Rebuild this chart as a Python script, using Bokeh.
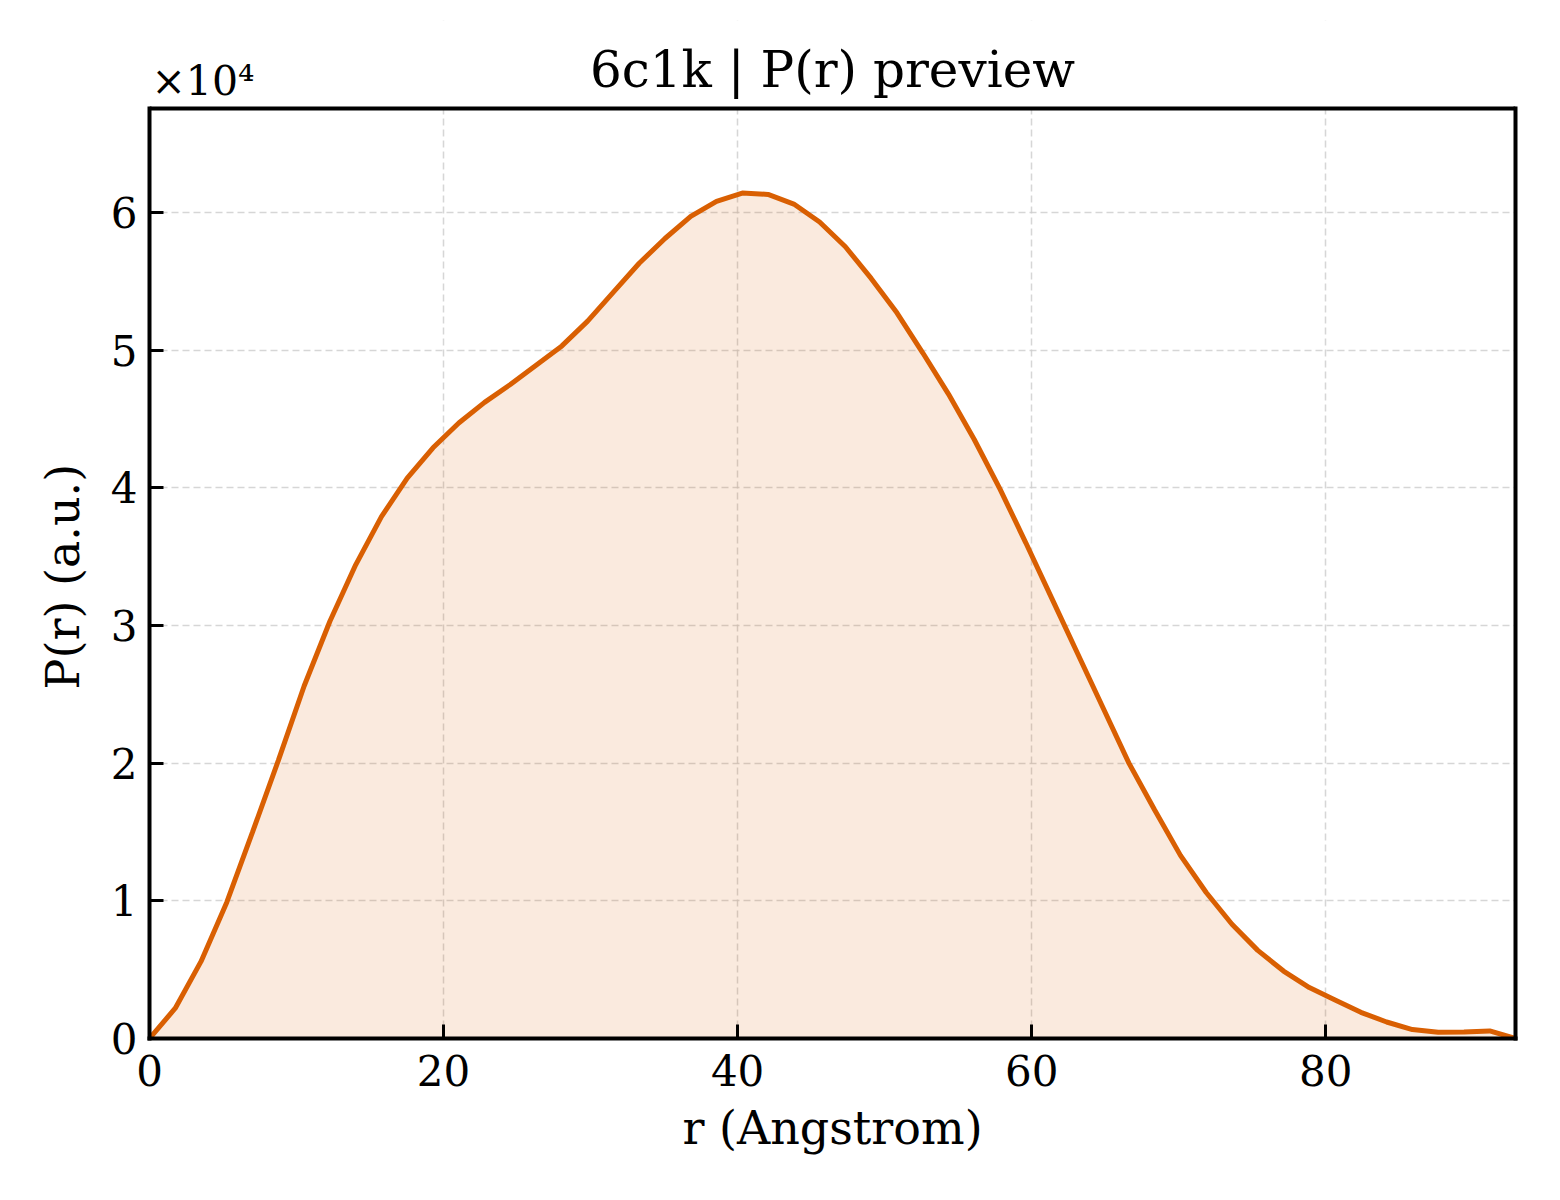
from bokeh.models import (ColumnDataSource, FixedTicker, CustomJSTickFormatter, Range1d,
                          LinearAxis, Span, Title)
from bokeh.core.properties import value
from bokeh.plotting import figure
from bokeh.embed import file_html
from bokeh.resources import INLINE

# P(r) curve (r in Angstrom, P in a.u.)
r_values = [
    0.000, 1.753, 3.506, 5.259, 7.012, 8.765, 10.518, 12.271, 14.024, 15.777,
    17.530, 19.283, 21.036, 22.789, 24.542, 26.295, 28.048, 29.801, 31.554, 33.307,
    35.060, 36.813, 38.566, 40.319, 42.072, 43.825, 45.578, 47.331, 49.084, 50.837,
    52.590, 54.343, 56.096, 57.849, 59.602, 61.355, 63.108, 64.861, 66.614, 68.367,
    70.120, 71.873, 73.626, 75.379, 77.132, 78.885, 80.638, 82.391, 84.144, 85.897,
    87.650, 89.403, 91.156, 92.909,
]
p_values = [
    0, 2200, 5600, 9900, 15000, 20200, 25600, 30300, 34400, 37900,
    40700, 42900, 44700, 46200, 47500, 48900, 50300, 52100, 54200, 56300,
    58100, 59700, 60800, 61400, 61300, 60600, 59300, 57500, 55200, 52700,
    49800, 46800, 43500, 39900, 36000, 32000, 28000, 24000, 20000, 16600,
    13300, 10600, 8300, 6400, 4900, 3700, 2800, 1900, 1200, 650,
    450, 480, 550, 0,
]
x_ticks = [0, 20, 40, 60, 80]
y_ticks = [0, 10000, 20000, 30000, 40000, 50000, 60000]
title_text = "6c1k | P(r) preview"
scale_text = "×10⁴"
x_label = "r (Angstrom)"
y_label = "P(r) (a.u.)"

FONT = "DejaVu Serif"
LINE = "#d95f02"
SPINE = 4

# canvas geometry (px): frame spans TOP..BOTTOM, the boxed axes start at BOX_TOP
W, H = 1545, 1185
LEFT, RIGHT, TOP, BOX_TOP, BOTTOM = 149, 1515, 20, 108, 1038

x_end = max(r_values)
y_top = max(p_values) * 1.1
# extend the data range upwards so the title strip sits inside the frame
y_end = y_top * (BOTTOM - TOP) / (BOTTOM - BOX_TOP)
ky = (BOTTOM - BOX_TOP) / y_top      # px per data unit, y
kx = (RIGHT - LEFT) / x_end          # px per data unit, x

src = ColumnDataSource(dict(r=r_values, p=p_values))

p = figure(
    width=W, height=H,
    x_range=Range1d(0, x_end),
    y_range=Range1d(0, y_end),
    output_backend="svg", toolbar_location=None,
    min_border_left=LEFT, min_border_right=W - RIGHT,
    min_border_top=TOP, min_border_bottom=H - BOTTOM,
)
p.outline_line_color = None

p.varea(x="r", y1=0, y2="p", source=src, fill_color=LINE, fill_alpha=0.13)
p.line(x="r", y="p", source=src, line_color=LINE, line_width=5)

# blank strip above the box (hides the grid there)
p.quad(left=[0], right=[x_end], bottom=[y_top], top=[y_end],
       fill_color="white", line_color=None)

# axes, matplotlib-ish: ticks pointing in, box drawn by the axis lines
for ax in (p.xaxis[0], p.yaxis[0]):
    ax.axis_line_color = "black"
    ax.axis_line_width = SPINE
    ax.axis_line_cap = "square"
    ax.major_tick_in = 14
    ax.major_tick_out = 0
    ax.minor_tick_line_color = None
    ax.major_tick_line_width = 3
    ax.major_label_text_font = FONT
    ax.major_label_text_font_size = "42px"
    ax.major_label_text_color = "black"
    ax.axis_label_text_font = FONT
    ax.axis_label_text_font_size = "46px"
    ax.axis_label_text_font_style = "normal"
    ax.axis_label_text_color = "black"

p.yaxis.bounds = (0, y_top)
p.xaxis.ticker = FixedTicker(ticks=x_ticks)
p.yaxis.ticker = FixedTicker(ticks=y_ticks)
p.yaxis.formatter = CustomJSTickFormatter(code="return (tick / 1e4).toFixed(0);")
p.xaxis.axis_label = x_label
p.xaxis.major_label_standoff = 16
p.yaxis.major_label_standoff = 12
p.xaxis.axis_label_standoff = 12

# y label as a side title so it can be centred on the box, not on the frame
p.add_layout(Title(text=y_label, align="left", offset=349, standoff=36,
                   text_font=FONT, text_font_size="46px", text_font_style="normal",
                   text_color="black"), "left")

right = LinearAxis(bounds=(0, y_top), ticker=FixedTicker(ticks=[]),
                   axis_line_color="black", axis_line_width=SPINE, axis_line_cap="square",
                   major_tick_in=0, major_tick_out=0, minor_tick_line_color=None,
                   major_label_text_font_size="0px")
p.add_layout(right, "right")

p.add_layout(Span(location=y_top, dimension="width", line_color="black", line_width=SPINE))

p.grid.grid_line_color = "#cccccc"
p.grid.grid_line_alpha = 0.8
p.grid.grid_line_dash = "7 4"
p.grid.grid_line_width = 1.5

# title and the scale note, drawn as text in the strip above the box
p.text(x=[x_end / 2], y=[y_top + 39 / ky], text=[title_text],
       text_align="center", text_baseline="alphabetic", text_color="black",
       text_font=value(FONT), text_font_size="50px")
p.text(x=[2 / kx], y=[y_top + 28 / ky], text=[scale_text],
       text_align="left", text_baseline="alphabetic", text_color="black",
       text_font=value(FONT), text_font_size="41px")

open("out.html", "w").write(file_html(p, INLINE))
